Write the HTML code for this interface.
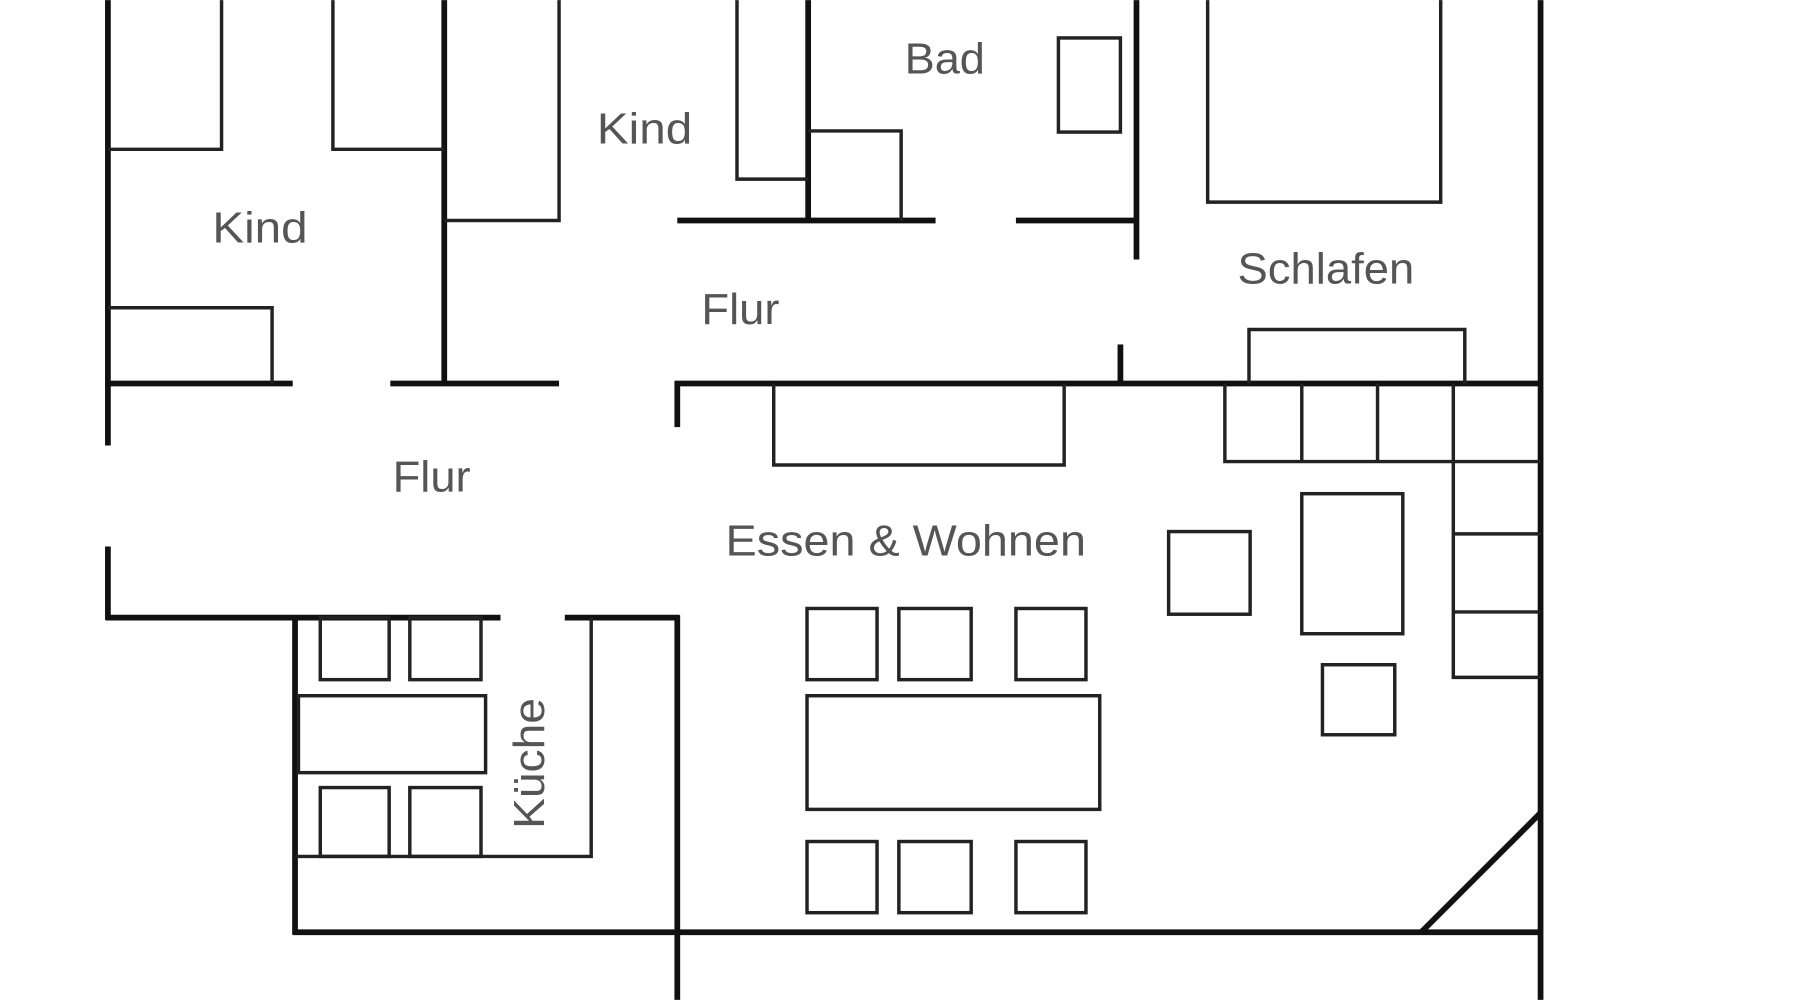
<!DOCTYPE html>
<html><head><meta charset="utf-8"><style>
html,body{margin:0;padding:0;background:#fff;}
svg{display:block;}
text{font-family:"Liberation Sans",sans-serif;fill:#555;font-size:38px;}
</style></head><body>
<svg width="1800" height="1000" viewBox="0 0 1568 871" xmlns="http://www.w3.org/2000/svg">
<rect width="1568" height="871" fill="#fff"/>
<g stroke="#111" stroke-width="5" fill="none" stroke-linecap="butt">
<line x1="94" y1="0" x2="94" y2="388"/>
<line x1="94" y1="476" x2="94" y2="540"/>
<line x1="92" y1="334" x2="255" y2="334"/>
<line x1="340" y1="334" x2="487" y2="334"/>
<line x1="588" y1="334" x2="1344" y2="334"/>
<line x1="387" y1="0" x2="387" y2="334"/>
<line x1="92" y1="538" x2="436" y2="538"/>
<line x1="492" y1="538" x2="592" y2="538"/>
<line x1="590" y1="332" x2="590" y2="372"/>
<line x1="590" y1="536" x2="590" y2="871"/>
<line x1="704" y1="0" x2="704" y2="192"/>
<line x1="590" y1="192" x2="815" y2="192"/>
<line x1="885" y1="192" x2="992" y2="192"/>
<line x1="990" y1="0" x2="990" y2="226"/>
<line x1="976" y1="300" x2="976" y2="334"/>
<line x1="1342" y1="0" x2="1342" y2="871"/>
<line x1="257" y1="536" x2="257" y2="814"/>
<line x1="255" y1="812" x2="1344" y2="812"/>
<line x1="1238" y1="812" x2="1342" y2="708"/>
</g>
<g stroke="#222" stroke-width="3" fill="none">
<polyline points="193,0 193,130 94,130"/>
<polyline points="290,0 290,130 387,130"/>
<polyline points="487,0 487,192 387,192"/>
<polyline points="94,268 237,268 237,334"/>
<polyline points="642,0 642,156 704,156"/>
<polyline points="704,114 785,114 785,192"/>
<rect x="922" y="33" width="54" height="82"/>
<polyline points="1052,0 1052,176 1255,176 1255,0"/>
<polyline points="1088,334 1088,287 1276,287 1276,334"/>
<polyline points="674,334 674,405 927,405 927,334"/>
<polyline points="1067,334 1067,402 1342,402"/>
<line x1="1134" y1="334" x2="1134" y2="402"/>
<line x1="1200" y1="334" x2="1200" y2="402"/>
<polyline points="1266,334 1266,590 1342,590"/>
<line x1="1266" y1="465" x2="1342" y2="465"/>
<line x1="1266" y1="533" x2="1342" y2="533"/>
<rect x="1018" y="463" width="71" height="72"/>
<rect x="1134" y="430" width="88" height="122"/>
<rect x="1152" y="579" width="63" height="61"/>
<rect x="703" y="530" width="61" height="62"/>
<rect x="783" y="530" width="63" height="62"/>
<rect x="885" y="530" width="61" height="62"/>
<rect x="703" y="606" width="255" height="99"/>
<rect x="703" y="733" width="61" height="62"/>
<rect x="783" y="733" width="63" height="62"/>
<rect x="885" y="733" width="61" height="62"/>
<polyline points="515,538 515,746 257,746"/>
<rect x="279" y="538" width="60" height="54"/>
<rect x="357" y="538" width="62" height="54"/>
<rect x="260" y="606" width="163" height="67"/>
<rect x="279" y="686" width="60" height="60"/>
<rect x="357" y="686" width="62" height="60"/>
</g>
<text x="185" y="211" textLength="83" lengthAdjust="spacingAndGlyphs">Kind</text>
<text x="520" y="125" textLength="83" lengthAdjust="spacingAndGlyphs">Kind</text>
<text x="788" y="64" textLength="70" lengthAdjust="spacingAndGlyphs">Bad</text>
<text x="611" y="282" textLength="68" lengthAdjust="spacingAndGlyphs">Flur</text>
<text x="1078" y="247" textLength="154" lengthAdjust="spacingAndGlyphs">Schlafen</text>
<text x="342" y="428" textLength="68" lengthAdjust="spacingAndGlyphs">Flur</text>
<text x="632" y="484" textLength="314" lengthAdjust="spacingAndGlyphs">Essen &amp; Wohnen</text>
<text x="0" y="0" transform="translate(474,722) rotate(-90)" textLength="114" lengthAdjust="spacingAndGlyphs">Küche</text>
</svg>
</body></html>
